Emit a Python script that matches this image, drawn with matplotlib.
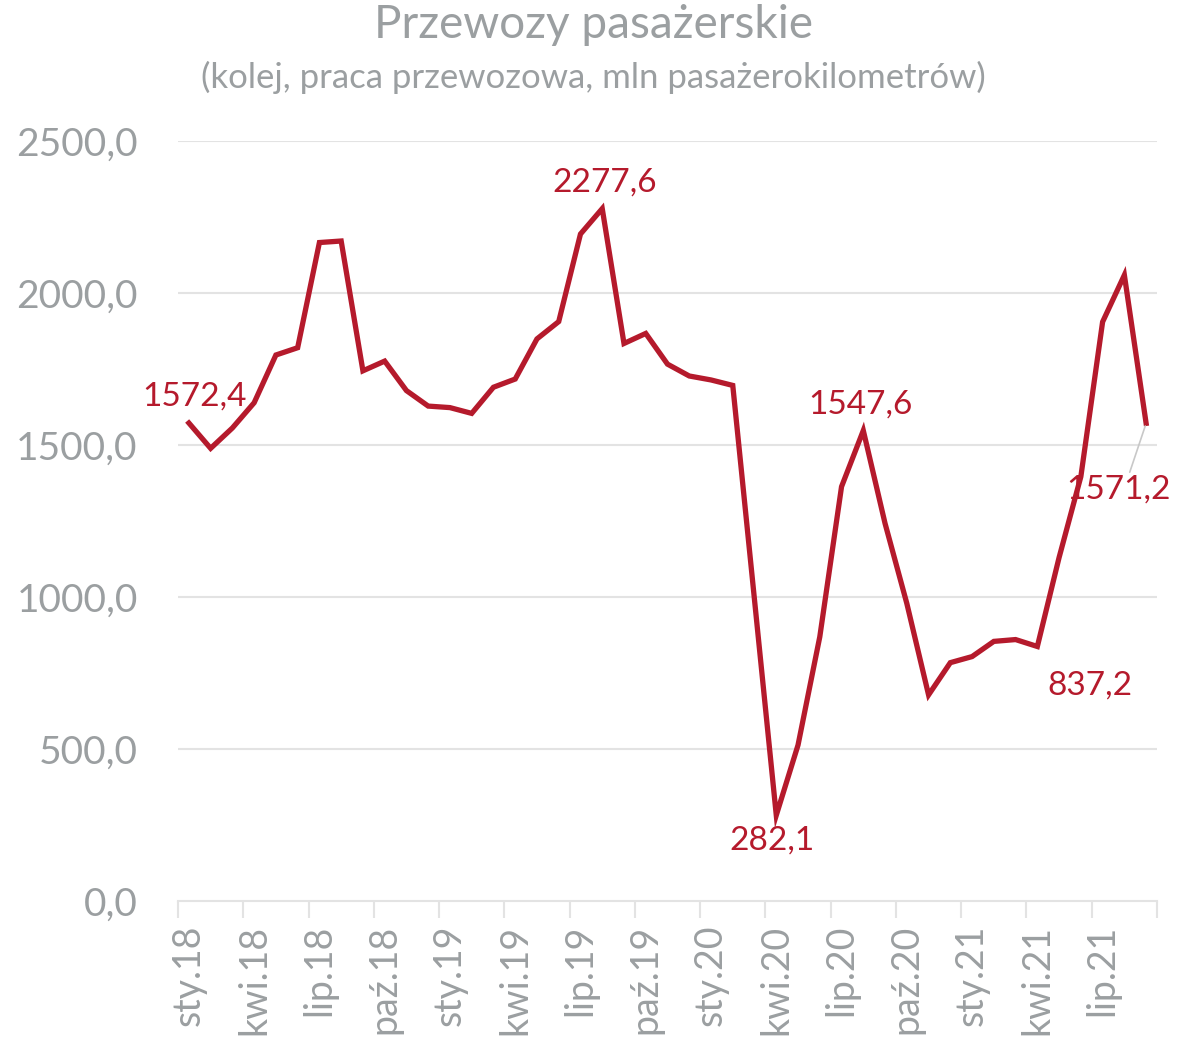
import matplotlib
matplotlib.use("Agg")
import matplotlib.pyplot as plt
import numpy as np

############
# DANE
############

miesiace = ["sty", "lut", "mar", "kwi", "maj", "cze", "lip", "sie", "wrz", "paź", "lis", "gru"]
lata = ["18", "19", "20", "21"]
etykiety = [m + "." + r for r in lata for m in miesiace][:45]

wartosci = [1572.4, 1489, 1556, 1639, 1796, 1820, 2166, 2171, 1744, 1776, 1679, 1628,
            1623, 1604, 1690, 1717, 1849, 1906, 2194, 2277.6, 1834, 1867, 1766, 1727,
            1714, 1696, 990, 282.1, 513, 869, 1363, 1547.6, 1242, 979, 678, 784,
            804, 854, 860, 837.2, 1130, 1396, 1905, 2059, 1571.2]

# indeksy punktow z etykietami
opisane = [0, 19, 27, 31, 39, 44]

############
# STYL
############

plt.rcParams['font.family'] = ['Lato', 'DejaVu Sans']
szary = '#9b9fa1'
czerwony = '#b51a2c'
siatka = '#e3e3e3'

fig = plt.figure(figsize=(11.92, 10.4), dpi=100)
ax = fig.add_axes([178/1192, 1-901/1040, (1157-178)/1192, (901-141)/1040])

x = np.arange(len(wartosci))
ax.plot(x, wartosci, color=czerwony, lw=3.8, solid_joinstyle='miter', zorder=3)

ax.set_xlim(-0.5, len(wartosci) - 0.5)
ax.set_ylim(0, 2500)

# os y
ax.set_yticks(np.arange(0, 2501, 500))
ax.set_yticklabels([f"{v:.1f}".replace(".", ",") for v in np.arange(0, 2501, 500)])
ax.tick_params(axis='y', length=0, pad=29, labelsize=28, labelcolor=szary)
for v in np.arange(500, 2501, 500):
    ax.axhline(v, color=siatka, lw=1.5, zorder=1)

# os x
ax.set_xticks(x[::3])
ax.set_xticklabels(etykiety[::3], rotation=90)
ax.set_xticks(np.arange(-0.5, len(wartosci), 3), minor=True)
ax.tick_params(axis='x', which='major', length=0, pad=17, labelsize=27, labelcolor=szary)
ax.tick_params(axis='x', which='minor', length=12, width=1.5, color=siatka)
for lab in ax.get_xticklabels():
    lab.set_va('top')

for s in ['top', 'right', 'left']:
    ax.spines[s].set_visible(False)
ax.spines['bottom'].set_color(siatka)
ax.spines['bottom'].set_linewidth(1.5)

# etykiety danych
przesuniecia = {0: (4, 19), 19: (2, 19), 27: (-3, -18), 31: (-2, 19), 39: (38, -28)}
for i in opisane:
    tekst = f"{wartosci[i]:.1f}".replace(".", ",")
    if i == 44:
        ax.annotate(tekst, (x[i], wartosci[i]), xytext=(-20, -48), textcoords='offset points',
                    ha='center', va='center', fontsize=24, color=czerwony,
                    arrowprops=dict(arrowstyle='-', color='#c8c8c8', lw=1.2,
                                    shrinkA=0, shrinkB=2, relpos=(0.6, 1.0)))
    else:
        dx, dy = przesuniecia[i]
        ax.annotate(tekst, (x[i], wartosci[i]), xytext=(dx, dy), textcoords='offset points',
                    ha='center', va='center', fontsize=24, color=czerwony)

fig.text(0.498, 1-25/1040, "Przewozy pasażerskie", ha='center', va='center',
         fontsize=33, color=szary)
fig.text(0.498, 1-77/1040, "(kolej, praca przewozowa, mln pasażerokilometrów)",
         ha='center', va='center', fontsize=25, color=szary)

fig.savefig("out.png", dpi=100)
